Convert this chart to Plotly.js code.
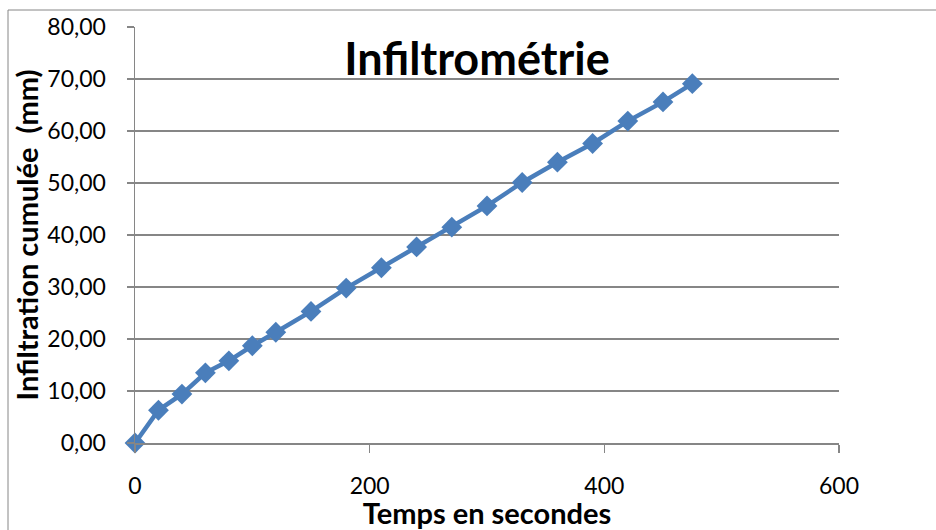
<!DOCTYPE html>
<html>
<head>
<meta charset="utf-8">
<script src="https://cdn.plot.ly/plotly-3.0.1.min.js"></script>
<style>html,body{margin:0;padding:0;background:#fff;}#chart{width:936px;height:530px;}</style>
</head>
<body>
<div id="chart"></div>
<script>
const tempsSecondes = [0, 20, 40, 60, 80, 100, 120, 150, 180, 210, 240, 270, 300, 330, 360, 390, 420, 450, 475];
const infiltrationCumulee = [0, 6.3, 9.4, 13.5, 15.8, 18.7, 21.3, 25.3, 29.8, 33.7, 37.7, 41.5, 45.6, 50.1, 54.0, 57.6, 61.9, 65.6, 69.1];
const xTickVals = [0, 200, 400, 600];
const yTickVals = [0, 10, 20, 30, 40, 50, 60, 70, 80];
const chartTitle = 'Infiltrométrie';
const xTitle = 'Temps en secondes';
const yTitle = 'Infiltration cumulée\u00a0 (mm)';

const font = 'Lato, "Open Sans", "DejaVu Sans", sans-serif';
const gridColor = '#868686';

const trace = {
  x: tempsSecondes,
  y: infiltrationCumulee,
  type: 'scatter',
  mode: 'lines+markers',
  cliponaxis: false,
  line: {color: '#4A7EBB', width: 4.5},
  marker: {symbol: 'diamond', size: 16, color: '#4A7EBB', line: {width: 0}},
  hoverinfo: 'x+y',
  showlegend: false
};

const layout = {
  width: 936,
  height: 530,
  margin: {l: 135, r: 97, t: 27, b: 87},
  paper_bgcolor: '#ffffff',
  plot_bgcolor: '#ffffff',
  font: {family: font, color: '#000000'},
  separators: ',.',
  title: {
    text: '<b>' + chartTitle + '</b>',
    font: {family: font, size: 45, color: '#000000'},
    xref: 'container', x: 477 / 936, xanchor: 'center',
    yref: 'container', y: 1 - 59 / 530, yanchor: 'middle'
  },
  xaxis: {
    range: [0, 600],
    tickvals: xTickVals,
    ticktext: xTickVals.map(String),
    showgrid: false,
    zeroline: false,
    showline: true,
    linecolor: gridColor,
    linewidth: 1.5,
    ticks: 'outside',
    ticklen: 8,
    tickwidth: 1.5,
    tickcolor: gridColor,
    tickfont: {family: font, size: 23, color: '#000000'},
    ticklabelstandoff: 14,
    title: {text: '<b>' + xTitle + '</b>', font: {family: font, size: 29, color: '#000000'}, standoff: 0}
  },
  yaxis: {
    range: [0, 80],
    tickvals: yTickVals,
    tickformat: '.2f',
    showgrid: true,
    gridcolor: gridColor,
    gridwidth: 1.5,
    zeroline: false,
    showline: true,
    linecolor: gridColor,
    linewidth: 1.5,
    ticks: 'outside',
    ticklen: 7,
    tickwidth: 1.5,
    tickcolor: gridColor,
    tickfont: {family: font, size: 23, color: '#000000'},
    ticklabelstandoff: 16,
    title: {text: '<b>' + yTitle + '</b>', font: {family: font, size: 29, color: '#000000'}, standoff: 0}
  },
  shapes: [{
    type: 'rect', xref: 'paper', yref: 'paper',
    x0: (8 - 135) / 704, x1: (940 - 135) / 704,
    y0: (443 - 545) / 416, y1: (443 - 10) / 416,
    line: {color: gridColor, width: 1}, fillcolor: 'rgba(0,0,0,0)', layer: 'below'
  }]
};

Plotly.newPlot('chart', [trace], layout, {displayModeBar: false, staticPlot: true});
</script>
</body>
</html>
